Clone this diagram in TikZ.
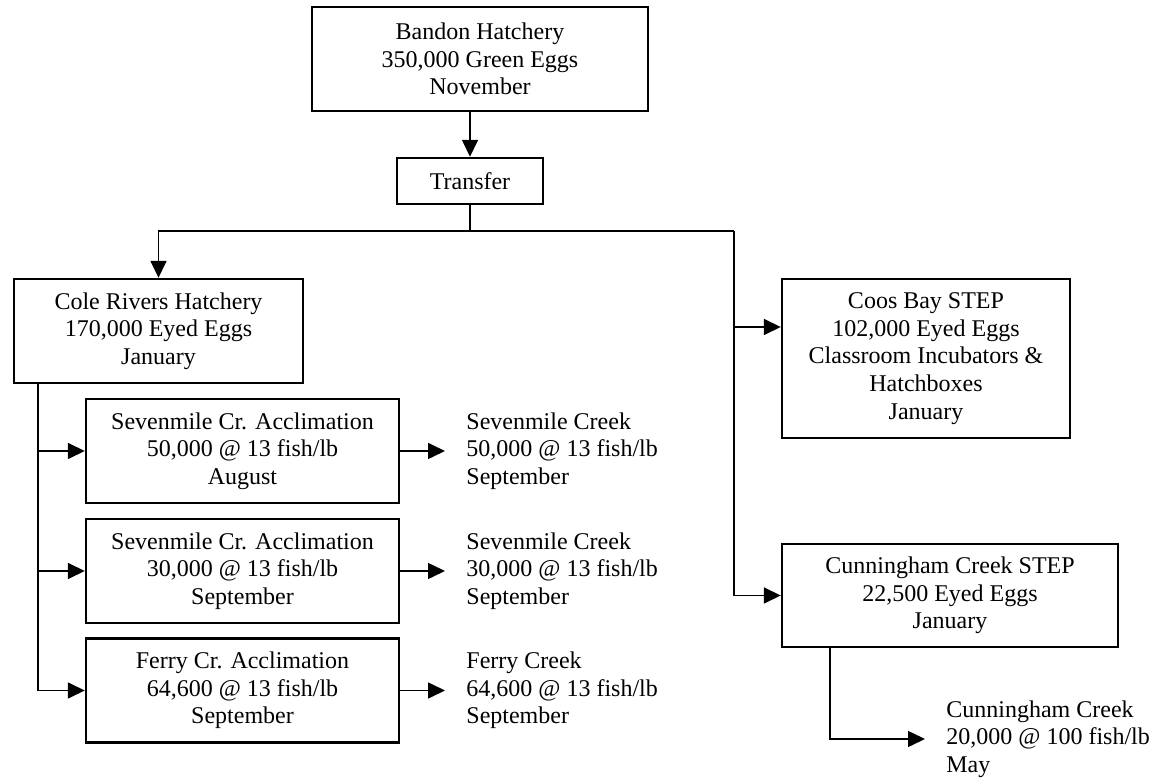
\documentclass[tikz,border=0pt]{standalone}
\usepackage{fontspec}
\setmainfont{Liberation Serif}
\usetikzlibrary{arrows.meta}
\begin{document}
\begin{tikzpicture}[x=0.5pt,y=-0.5pt,
  every node/.style={font=\fontsize{12}{13.8}\selectfont},
  box/.style={draw,line width=1.2pt,inner sep=0pt,align=center,anchor=center},
  outtext/.style={inner sep=0pt,align=left,anchor=west},
  conn/.style={line width=0.8pt},
  arr/.style={conn,-{Triangle[length=8.5pt,width=8pt]}},
  gap/.style={shorten >=10.5pt}]
\useasboundingbox (0,0) rectangle (1156,779);
\node[box,minimum width=168pt,minimum height=52pt] (bandon) at (480,59)
  {Bandon Hatchery\\350,000 Green Eggs\\November};
\node[box,minimum width=73pt,minimum height=23pt] (transfer) at (470,181) {Transfer};
\node[box,minimum width=144.5pt,minimum height=52pt] (cole) at (158.5,331)
  {Cole Rivers Hatchery\\170,000 Eyed Eggs\\January};
\node[box,minimum width=144pt,minimum height=79.5pt] (coos) at (926,358.5)
  {Coos Bay STEP\\102,000 Eyed Eggs\\Classroom Incubators \&\\Hatchboxes\\January};
\node[box,minimum width=156.5pt,minimum height=52pt] (sev1) at (242.5,451)
  {Sevenmile Cr. Acclimation\\50,000 @ 13 fish/lb\\August};
\node[box,minimum width=156.5pt,minimum height=52pt] (sev2) at (242.5,571)
  {Sevenmile Cr. Acclimation\\30,000 @ 13 fish/lb\\September};
\node[box,minimum width=156.5pt,minimum height=52pt] (ferry) at (242.5,690.5)
  {Ferry Cr. Acclimation\\64,600 @ 13 fish/lb\\September};
\node[box,minimum width=168pt,minimum height=51.5pt] (cunn) at (950,595.5)
  {Cunningham Creek STEP\\22,500 Eyed Eggs\\January};
\node[outtext] (o1) at (466,451) {Sevenmile Creek\\50,000 @ 13 fish/lb\\September};
\node[outtext] (o2) at (466,571) {Sevenmile Creek\\30,000 @ 13 fish/lb\\September};
\node[outtext] (o3) at (466,690.5) {Ferry Creek\\64,600 @ 13 fish/lb\\September};
\node[outtext] (o4) at (946,739) {Cunningham Creek\\20,000 @ 100 fish/lb\\May};
\coordinate (j) at (470,231);
\coordinate (r) at (734,231);
\coordinate (cl) at (38,383);
\coordinate (cd) at (830,647);
\draw[arr] (bandon.south -| transfer.north) -- (transfer.north);
\draw[conn] (transfer.south) -- (j);
\draw[arr] (j) -| (cole.north);
\draw[conn] (j) -- (r);
\draw[arr] (r) |- (coos.west |- {(0,327)});
\draw[arr] (r) |- (cunn.west);
\draw[arr] (cl) |- (sev1.west);
\draw[arr] (cl) |- (sev2.west);
\draw[arr] (cl) |- (ferry.west);
\draw[arr,gap] (sev1.east) -- (o1.west);
\draw[arr,gap] (sev2.east) -- (o2.west);
\draw[arr,gap] (ferry.east) -- (o3.west);
\draw[arr,gap] (cd) |- (o4.west);
\end{tikzpicture}
\end{document}
